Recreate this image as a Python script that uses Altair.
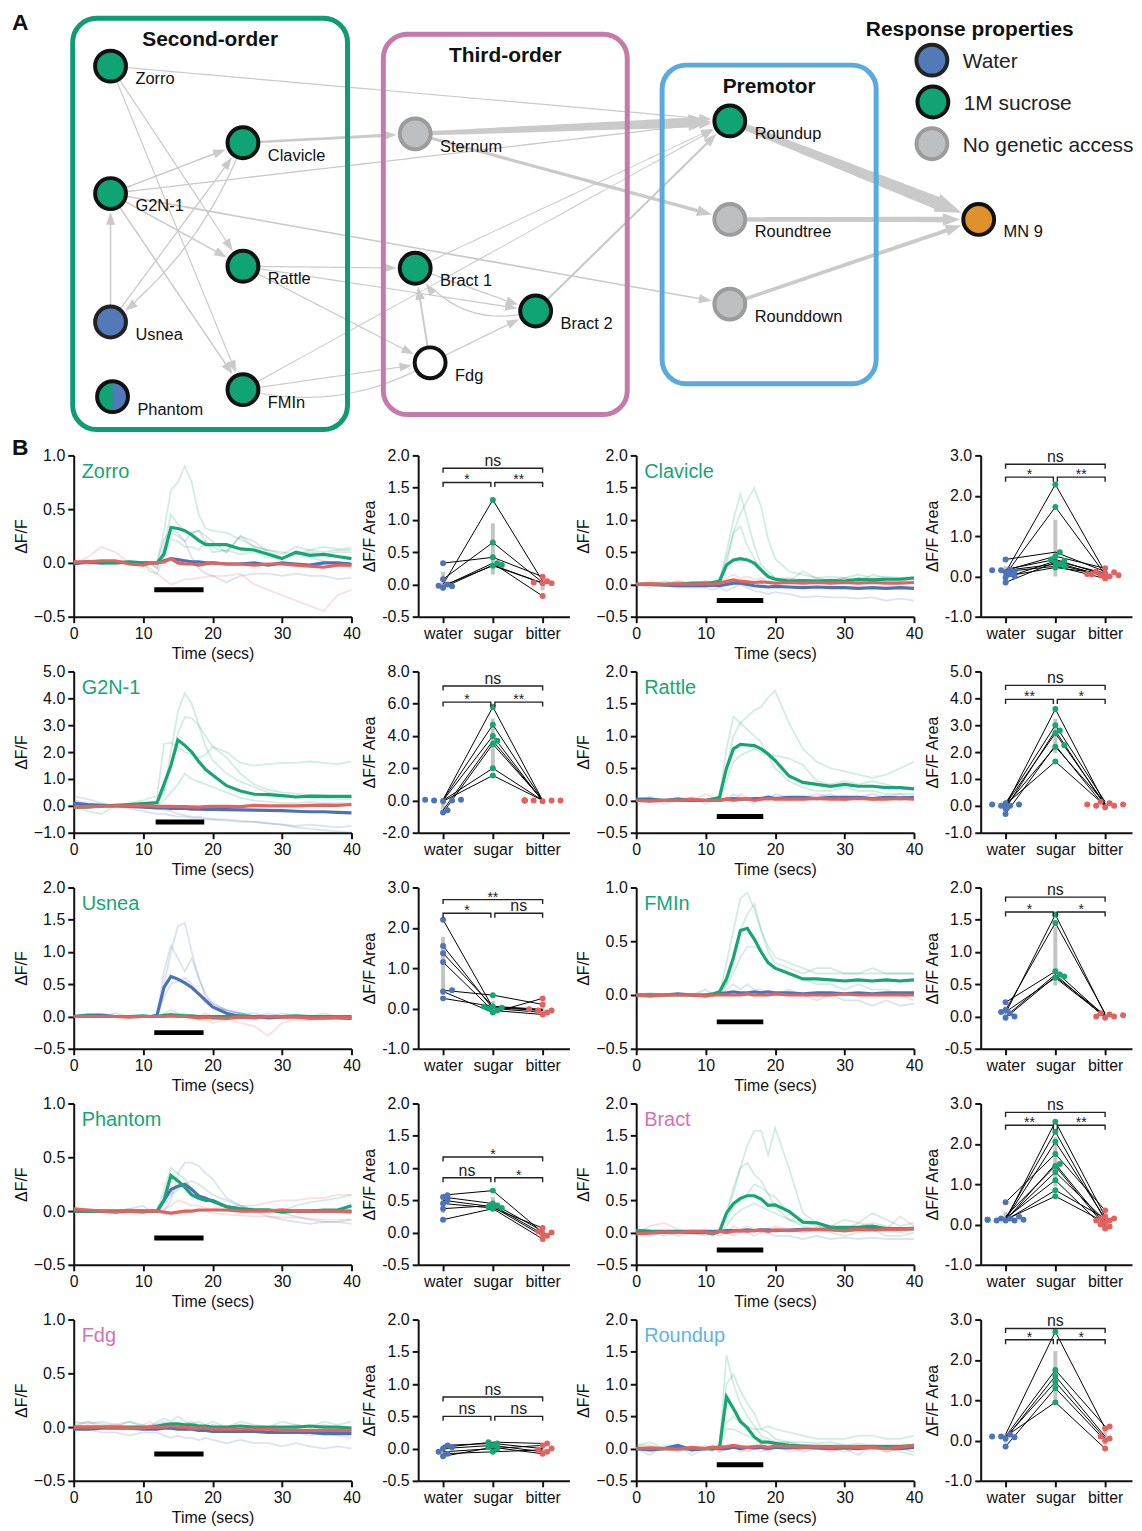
import math
import numpy as np
import pandas as pd
import altair as alt

FONT = "Liberation Sans"

# ---------------- Panel A : circuit diagram ----------------
NODE_NAMES = ["Zorro", "Clavicle", "G2N-1", "Rattle", "Usnea", "Phantom", "FMIn",
              "Sternum", "Bract 1", "Bract 2", "Fdg",
              "Roundup", "Roundtree", "Rounddown", "MN 9"]
NODE_X = [111, 244, 111, 244, 111, 113, 244, 417, 417, 538, 432, 733, 733, 733, 983]
NODE_Y = [65, 142, 193, 266, 322, 397, 390, 133, 268, 311, 363, 120, 219, 304, 219]
NODE_KIND = ["sucrose", "sucrose", "sucrose", "sucrose", "water", "mixed", "sucrose",
             "none", "sucrose", "sucrose", "unknown",
             "sucrose", "none", "none", "motor"]

KIND_FILL = {"sucrose": "#10a374", "water": "#5279b8", "mixed": "#10a374",
             "none": "#bdbfc1", "unknown": "#ffffff", "motor": "#df922b"}
KIND_STROKE = {"sucrose": "#111111", "water": "#222222", "mixed": "#111111",
               "none": "#9c9c9c", "unknown": "#111111", "motor": "#111111"}

EDGE_FROM = ["Zorro", "Zorro", "Zorro", "G2N-1", "G2N-1", "G2N-1", "G2N-1", "G2N-1",
             "Usnea", "Usnea", "Clavicle", "Clavicle", "Rattle", "Rattle", "Rattle",
             "FMIn", "FMIn", "FMIn", "Sternum", "Sternum", "Bract 1", "Bract 2",
             "Fdg", "Fdg", "Bract 1", "Bract 2", "Roundup", "Roundtree", "Rounddown"]
EDGE_TO = ["Roundup", "Rattle", "FMIn", "Clavicle", "Roundup", "Rattle", "Rounddown", "FMIn",
           "G2N-1", "Clavicle", "Usnea", "Sternum", "Bract 1", "Bract 2", "Fdg",
           "Fdg", "Fdg", "Roundup", "Roundup", "Roundtree", "Bract 2", "Bract 1",
           "Bract 1", "Bract 2", "Roundup", "Roundup", "MN 9", "MN 9", "MN 9"]
EDGE_W_START = [1.2, 1.2, 1.2, 1.5, 1.3, 1.5, 1.6, 1.5, 1.5, 1.3, 1.3, 2.2, 1.2, 1.2, 1.2,
                1.2, 1.2, 1.0, 4.0, 3.0, 1.3, 1.3, 2.0, 1.3, 1.0, 2.2, 6.0, 4.5, 3.5]
EDGE_W_END = [1.2, 1.2, 1.2, 1.5, 1.3, 1.5, 1.6, 1.5, 1.5, 1.3, 1.3, 3.2, 1.2, 1.2, 1.2,
              1.2, 1.2, 1.0, 10.0, 3.5, 1.3, 1.3, 2.0, 1.3, 1.0, 2.2, 13.0, 5.5, 4.0]
EDGE_BEND = [0, 0, 0, 0, 0, 0, 0, 0, 0, 0, 0.14, 0, 0, 0, 0,
             0, -0.2, 0, 0, 0, 0, 0.35, 0, 0, 0, 0, 0, 0, 0]
EDGE_HEAD = [1, 1, 1, 1, 1, 1, 1, 1, 1, 1, 1, 1, 1, 1, 1,
             1, 0, 1, 1, 1, 1, 1, 1, 1, 1, 1, 1, 1, 1]

BOX_X1 = [73, 385, 665]
BOX_X2 = [349, 630, 880]
BOX_Y1 = [17, 33, 64]
BOX_Y2 = [430, 415, 384]
BOX_COLOR = ["#0f9b74", "#c47bac", "#5aaadf"]
BOX_TITLE = ["Second-order", "Third-order", "Premotor"]

LEGEND_LABELS = ["Water", "1M sucrose", "No genetic access"]
LEGEND_KIND = ["water", "sucrose", "none"]
LEGEND_X = [936, 937, 936]
LEGEND_Y = [59, 101, 143]
LEGEND_TITLE = "Response properties"

PANEL_LETTERS = ["A", "B"]
PANEL_LETTER_Y = [22, 449]

EDGE_COLOR = "#cacaca"
NODE_R = 17.5
ARROW_PATH = "M0,-1L0.72,1L-0.72,1Z"
HALF_PATH = "M0,-1A1,1,0,0,1,0,1Z"

# ---------------- Panel B : calcium imaging ----------------
T = [0, 2, 4, 6, 8, 10, 11, 12, 13, 14, 15, 16, 17, 18, 19, 20,
     22, 24, 26, 28, 30, 32, 34, 36, 38, 40]

ZORRO = {
    "green": [0, .01, 0, 0, .01, 0, 0, 0, .08, .33, .32, .30, .26, .21, .17, .17,
              .17, .13, .12, .08, .04, .10, .07, .08, .06, .04],
    "blue": [-.01, .01, 0, .01, 0, 0, 0, 0, .02, .04, .03, .02, .01, .01, 0, 0,
             -.01, -.01, 0, -.02, 0, -.01, -.02, 0, 0, -.01],
    "red": [.01, .01, .02, .02, -.01, -.02, 0, 0, .01, .04, 0, -.01, -.01, -.02, -.01, 0,
            -.01, -.01, -.02, -.01, -.01, -.02, -.03, -.04, -.02, -.02],
    "faint": [
        ("green", [0, 0, 0, -.02, 0, 0, 0, 0, .30, .68, .75, .90, .75, .45, .32, .30,
                   .28, .22, .15, .12, .10, .08, .12, .10, .12, .12]),
        ("green", [0, 0, 0, 0, 0, 0, 0, -.05, .15, .45, .36, .30, .28, .30, .20, .15,
                   .10, .25, .15, .12, .08, .15, .12, .15, .13, .14]),
        ("green", [.02, -.02, 0, 0, .02, 0, -.08, -.10, .05, .22, .20, .15, .15, .12, .20, .10,
                   .12, .08, .10, .05, .05, .08, .10, .08, .10, .10]),
        ("blue", [0, 0, .02, 0, 0, 0, 0, 0, .22, .30, .28, .20, .05, -.05, -.10, -.12,
                  -.18, -.12, -.10, -.10, -.12, -.10, -.12, -.12, -.15, -.14]),
        ("blue", [0, .02, 0, 0, 0, 0, 0, -.05, .12, .28, .25, .20, .28, .30, .25, .20,
                  .10, .25, .20, .10, .05, .08, .05, .02, 0, -.05]),
        ("red", [0, .05, .15, .10, 0, 0, -.05, -.10, -.15, -.20, -.18, -.15, -.15, -.14, -.13, -.12,
                 -.12, -.10, -.20, -.25, -.30, -.35, -.40, -.45, -.30, -.25]),
    ],
}
CLAVICLE = {
    "green": [0, 0, 0, 0, .02, .02, .03, .05, .30, .38, .40, .38, .33, .22, .12, .08,
              .05, .06, .05, .06, .05, .08, .07, .08, .08, .10],
    "blue": [0, 0, -.01, -.02, -.02, -.02, -.01, -.02, 0, .02, .02, 0, -.02, -.03, -.04, -.03,
             -.04, -.05, -.04, -.05, -.05, -.06, -.05, -.06, -.05, -.06],
    "red": [0, .01, 0, .01, 0, .01, 0, .02, .05, .07, .05, .04, .03, .04, .03, .02,
            .03, .02, .03, .02, .03, .02, .03, .02, .02, .03],
    "faint": [
        ("green", [0, 0, .05, 0, .02, 0, .05, .10, .40, .80, 1.10, 1.30, 1.50, 1.20, .70, .40,
                   .20, .15, .10, .12, .10, .15, .10, .12, .10, .12]),
        ("green", [0, .02, 0, 0, 0, .05, .02, .05, .50, 1.00, 1.40, 1.00, .60, .30, .20, .10,
                   .08, .05, .05, .08, .05, .10, .05, .08, .10, .08]),
        ("green", [0, -.05, 0, .05, 0, 0, 0, 0, .30, .80, .90, .60, .40, .25, .15, .10,
                   .05, .20, .10, .05, .10, .05, .15, .10, .05, .10]),
        ("blue", [0, 0, -.02, -.05, -.05, -.05, -.08, -.05, -.10, -.05, 0, -.05, -.10, -.12, -.15, -.12,
                  -.15, -.20, -.18, -.20, -.20, -.22, -.20, -.25, -.22, -.25]),
        ("red", [0, .05, 0, .05, .02, .05, 0, .05, .10, .15, .10, .12, .08, .10, .05, .08,
                 .10, .05, .08, .05, .10, .05, .08, .05, .05, .08]),
    ],
}
G2N1 = {
    "green": [-.05, -.05, 0, .02, .05, .08, .10, .12, .80, 1.50, 2.45, 2.25, 2.00, 1.65, 1.35, 1.15,
              .75, .55, .43, .42, .38, .33, .36, .35, .35, .35],
    "blue": [.10, .05, .02, 0, -.02, -.05, -.06, -.08, -.08, -.10, -.10, -.10, -.12, -.12, -.13, -.13,
             -.14, -.15, -.16, -.17, -.18, -.20, -.22, -.22, -.24, -.26],
    "red": [-.05, -.03, -.02, 0, 0, 0, 0, -.02, -.02, -.02, -.03, -.03, -.04, -.05, -.03, -.02,
            -.02, -.03, .02, 0, 0, 0, .02, .03, .02, .05],
    "faint": [
        ("green", [0, 0, 0, 0, 0, 0, .05, .10, .60, 2.00, 3.50, 4.20, 3.80, 3.00, 2.20, 1.70,
                   1.20, .90, .70, .50, .40, .35, .30, .30, .25, .25]),
        ("green", [0, 0, 0, .05, 0, .05, .10, .10, .50, 1.50, 2.70, 3.30, 3.25, 3.00, 2.60, 2.20,
                   1.80, 1.20, .80, .60, .50, .45, .40, .40, .35, .35]),
        ("green", [0, -.20, -.30, 0, .10, .20, .30, .35, 2.30, 2.35, 2.20, 2.00, 1.90, 1.80, 1.90, 2.20,
                   2.00, 1.60, 1.50, 1.55, 1.60, 1.60, 1.65, 1.60, 1.55, 1.65]),
        ("green", [0, 0, 0, 0, 0, 0, 0, 0, .20, .50, .80, 1.20, 1.00, .90, .80, .70,
                   .50, .30, .20, .15, .10, .10, .15, .10, .10, .10]),
        ("blue", [.35, .25, .10, 0, -.10, -.20, -.25, -.30, -.30, -.35, -.40, -.40, -.45, -.45, -.50, -.50,
                  -.55, -.60, -.60, -.65, -.70, -.75, -.70, -.75, -.80, -.75]),
        ("blue", [.20, .10, .05, 0, 0, -.05, -.10, -.10, -.15, -.20, -.30, -.35, -.40, -.40, -.45, -.50,
                  -.50, -.55, -.60, -.65, -.70, -.80, -.85, -.90, -.95, -1.0]),
    ],
}
RATTLE = {
    "green": [0, 0, 0, 0, 0, 0, .02, .05, .50, .80, .87, .86, .85, .80, .72, .62,
              .38, .28, .25, .22, .25, .22, .22, .20, .20, .18],
    "blue": [.02, .02, 0, .02, 0, 0, .02, 0, .02, .03, .02, .02, .03, .03, .05, .03,
             .05, .05, .03, .05, .05, .05, .03, .05, .04, .05],
    "red": [0, -.01, 0, 0, .02, 0, 0, 0, .02, 0, .02, .03, 0, .02, .03, .02,
            .02, .02, .03, .02, .02, .03, .02, .02, .03, .02],
    "faint": [
        ("green", [0, 0, 0, 0, 0, 0, 0, 0, .50, 1.00, 1.20, 1.30, 1.40, 1.45, 1.60, 1.70,
                   1.20, .80, .60, .50, .45, .40, .35, .40, .50, .60]),
        ("green", [0, 0, 0, 0, 0, 0, 0, .05, .80, 1.30, 1.20, 1.10, 1.00, .90, .70, .50,
                   .30, .20, .15, .15, .20, .15, .15, .10, .10, .10]),
        ("green", [0, 0, 0, 0, 0, 0, 0, 0, .30, .60, .70, .75, .80, .75, .70, .70,
                   .65, .55, .30, .25, .30, .25, .30, .25, .20, .20]),
        ("blue", [0, .05, -.05, 0, .05, -.05, 0, .05, 0, .10, .05, 0, -.05, .05, 0, .10,
                  .05, 0, .05, .10, 0, .05, .10, .05, 0, .05]),
        ("red", [0, .05, 0, .05, 0, .10, .05, 0, .05, 0, .10, .05, 0, .05, 0, .05,
                 0, .05, .10, .05, 0, .05, 0, .05, .10, 0]),
    ],
}
USNEA = {
    "green": [0, .01, 0, 0, 0, .01, 0, 0, .02, .03, .02, .01, .01, 0, 0, 0,
              0, .01, 0, 0, 0, .01, 0, 0, 0, 0],
    "blue": [0, .02, .02, 0, 0, 0, 0, .02, .45, .62, .58, .52, .45, .35, .25, .15,
             .05, 0, 0, -.02, -.01, 0, -.02, -.02, -.02, -.03],
    "red": [0, 0, 0, 0, -.01, 0, 0, 0, 0, .01, 0, 0, -.01, -.02, -.01, -.02,
            -.03, -.01, -.02, 0, -.01, -.01, -.02, -.02, -.01, -.02],
    "faint": [
        ("blue", [0, 0, 0, 0, 0, 0, 0, 0, .50, 1.00, 1.40, 1.45, 1.00, .60, .35, .20,
                  .10, .05, 0, 0, 0, 0, 0, 0, 0, 0]),
        ("blue", [0, 0, 0, 0, 0, 0, 0, 0, .70, 1.10, .90, .70, .90, .60, .30, .20,
                  .10, .05, .05, 0, 0, 0, 0, 0, 0, -.05]),
        ("blue", [0, 0, 0, 0, 0, 0, 0, 0, .30, .50, .55, .60, .50, .35, .20, .15,
                  .10, .05, 0, .05, 0, 0, -.05, 0, 0, 0]),
        ("red", [0, 0, 0, 0, 0, 0, 0, 0, 0, 0, 0, 0, 0, -.05, -.05, -.10,
                 -.05, -.10, -.15, -.30, -.10, -.05, -.05, -.05, 0, -.05]),
        ("green", [0, 0, 0, .05, 0, 0, 0, 0, .05, .10, .05, .05, 0, 0, .05, 0,
                   0, .05, 0, 0, .05, 0, 0, .05, 0, 0]),
    ],
}
FMIN = {
    "green": [0, 0, 0, 0, 0, 0, .01, .03, .15, .35, .60, .62, .52, .40, .30, .25,
              .20, .15, .15, .14, .13, .14, .13, .14, .13, .14],
    "blue": [0, 0, 0, .01, 0, 0, 0, .01, .02, .03, .02, .02, .03, .02, .03, .02,
             .02, .01, .02, .02, .01, .02, .01, .02, .02, .02],
    "red": [0, -.01, 0, 0, 0, -.01, 0, 0, 0, 0, 0, .01, 0, 0, 0, .01,
            0, 0, 0, 0, .01, 0, 0, 0, 0, 0],
    "faint": [
        ("green", [0, 0, 0, 0, 0, 0, 0, 0, .30, .60, .90, .95, .80, .60, .45, .35,
                   .30, .25, .20, .20, .20, .20, .20, .20, .20, .20]),
        ("green", [0, 0, 0, 0, 0, 0, 0, 0, .10, .30, .60, .75, .85, .60, .40, .30,
                   .25, .20, .25, .25, .20, .20, .25, .20, .20, .20]),
        ("green", [0, 0, 0, 0, 0, 0, 0, 0, .10, .20, .35, .45, .45, .40, .30, .25,
                   .20, .15, .10, .10, .05, .10, .05, .05, 0, -.05]),
        ("blue", [0, .02, 0, 0, 0, .05, 0, 0, .05, .10, .05, .10, .05, .05, 0, 0,
                  .05, 0, -.05, 0, -.05, -.05, -.10, -.05, -.10, -.08]),
    ],
}
PHANTOM = {
    "green": [0, 0, 0, 0, 0, 0, 0, 0, .10, .33, .28, .22, .15, .12, .10, .10,
              .04, .02, .01, .01, -.01, 0, 0, .01, .01, .05],
    "blue": [0, 0, 0, 0, 0, 0, 0, 0, .10, .20, .23, .25, .20, .14, .12, .09,
             .04, .02, .01, .01, 0, 0, 0, 0, 0, 0],
    "red": [.02, .01, 0, -.01, 0, -.01, 0, 0, -.01, -.02, -.01, 0, 0, .01, .01, .01,
            .01, 0, 0, 0, .01, 0, 0, 0, 0, -.01],
    "faint": [
        ("blue", [0, 0, 0, 0, 0, 0, 0, 0, 0, .10, .35, .45, .45, .42, .35, .30,
                  .12, .05, .02, 0, -.02, -.05, -.08, -.10, -.10, -.12]),
        ("blue", [0, .02, 0, 0, .02, .05, 0, 0, .05, .15, .20, .25, .28, .25, .20, .15,
                  .10, .05, 0, -.05, -.08, -.10, -.12, -.10, -.10, -.08]),
        ("green", [0, 0, 0, 0, .02, 0, 0, 0, .20, .40, .35, .30, .20, .15, .10, .08,
                   .05, .02, 0, 0, 0, .05, .08, .10, .12, .15]),
        ("red", [0, 0, 0, 0, 0, 0, 0, 0, .02, .05, .10, .08, .05, .05, .03, .02,
                 .05, .05, .05, .08, .10, .10, .12, .12, .15, .15]),
        ("red", [0, 0, 0, -.02, 0, 0, 0, 0, -.02, -.03, -.03, -.02, 0, 0, 0, -.02,
                 -.03, -.04, -.05, -.05, -.06, -.06, -.07, -.08, -.08, -.08]),
    ],
}
BRACT = {
    "green": [.03, .02, 0, .01, 0, 0, -.02, .02, .30, .45, .53, .57, .57, .52, .42, .43,
              .33, .16, .15, .08, .08, .08, .10, .06, .06, .06],
    "blue": [.03, .02, .02, .02, .02, .02, .02, .02, .03, .03, .03, .04, .03, .04, .04, .03,
             .04, .05, .05, .05, .04, .05, .05, .05, .06, .06],
    "red": [-.02, -.01, .01, 0, .02, .01, -.01, .02, 0, .02, .03, .02, .03, .04, .02, .04,
            .03, .04, .05, .04, .03, .05, .04, .05, .05, .06],
    "faint": [
        ("green", [0, .02, 0, 0, 0, 0, -.05, 0, .30, .60, 1.00, 1.35, 1.58, 1.58, 1.20, 1.62,
                   1.00, .30, .15, .10, .05, .10, .15, .10, .05, .10]),
        ("green", [0, 0, 0, 0, 0, 0, 0, 0, .30, .70, 1.00, 1.08, .90, .80, .60, .40,
                   .20, .15, .10, .05, 0, .05, .10, .05, 0, .05]),
        ("green", [0, 0, -.05, 0, 0, 0, 0, 0, .20, .40, .50, .60, .75, .70, .60, .55,
                   .30, .20, .15, .10, .20, .15, .30, .20, .10, .15]),
        ("green", [0, 0, 0, 0, 0, 0, 0, 0, .10, .25, .35, .40, .45, .40, .35, .30,
                   .20, .10, .05, 0, -.05, 0, .05, -.05, -.05, 0]),
        ("red", [0, .10, .15, .05, 0, .05, 0, .05, 0, .10, .05, .10, .05, 0, .05, .10,
                 .05, 0, .05, .10, .05, .15, .10, .05, .25, .10]),
        ("blue", [0, -.05, 0, -.05, 0, -.05, 0, -.05, 0, -.05, 0, 0, -.05, 0, 0, -.05,
                  -.05, -.10, -.05, -.10, -.08, -.10, -.08, -.10, -.10, -.10]),
    ],
}
FDG = {
    "green": [0, 0, 0, 0, 0, 0, 0, .01, .02, .03, .03, .02, .02, .01, .01, 0,
              0, .01, 0, 0, 0, 0, .01, 0, 0, -.01],
    "blue": [-.02, -.02, -.01, -.01, -.01, -.02, -.02, -.02, -.01, -.01, -.02, -.02, -.02, -.03, -.03, -.04,
             -.04, -.04, -.04, -.05, -.05, -.05, -.05, -.06, -.06, -.06],
    "red": [0, 0, 0, 0, -.01, -.01, 0, 0, 0, .01, 0, 0, -.01, -.01, -.01, -.02,
            -.02, -.02, -.02, -.02, -.03, -.03, -.03, -.03, -.03, -.03],
    "faint": [
        ("green", [.02, .05, .03, 0, .05, .02, 0, .05, .08, .05, .10, .05, .03, .05, .02, .05,
                   0, .05, .02, 0, .05, .02, 0, .05, .02, .05]),
        ("blue", [0, -.02, -.05, -.05, -.08, -.05, -.05, -.05, -.08, -.10, -.08, -.10, -.10, -.12, -.10, -.12,
                  -.15, -.12, -.15, -.15, -.18, -.15, -.18, -.20, -.18, -.20]),
        ("red", [0, .05, 0, .03, 0, .02, .05, 0, .03, 0, -.02, 0, .02, -.02, 0, -.03,
                 0, -.05, -.02, -.05, -.03, -.05, -.08, -.05, -.08, -.10]),
        ("blue", [.05, .03, .05, .02, .05, 0, .02, .03, .05, .02, 0, .03, .05, .02, 0, .02,
                  0, -.02, 0, -.02, 0, .02, 0, .02, 0, 0]),
    ],
}
ROUNDUP = {
    "green": [0, 0, 0, 0, 0, 0, -.01, .02, .80, .62, .42, .32, .18, .10, .10, .08,
              .05, .04, .03, .03, .02, .03, .03, .03, .03, .05],
    "blue": [0, -.02, 0, .05, -.02, 0, .02, 0, 0, .02, 0, .02, .01, .02, 0, .02,
             .01, .02, .01, 0, .01, 0, .02, .01, 0, .02],
    "red": [0, .01, 0, -.01, .02, 0, .02, .02, .03, .05, .03, .02, .03, .04, .02, .04,
            .03, .02, .03, .02, .03, .02, .02, 0, .02, .05],
    "faint": [
        ("green", [0, 0, 0, 0, 0, 0, 0, .05, 1.45, 1.00, .70, .50, .35, .20, .15, .10,
                   .10, .05, .05, .05, .05, .05, .05, .05, .05, .05]),
        ("green", [0, 0, 0, 0, 0, 0, 0, .05, 1.00, 1.15, .90, .70, .55, .30, .25, .15,
                   .10, .10, .08, .10, .05, .08, .05, .05, .05, .05]),
        ("green", [.05, .10, 0, -.05, 0, 0, 0, .05, .40, .50, .40, .35, .30, .30, .35, .30,
                   .25, .20, .15, .15, .15, .20, .20, .15, .15, .20]),
        ("green", [.05, .05, 0, 0, 0, 0, 0, 0, .30, .30, .25, .20, .15, .15, .10, .10,
                   .08, .05, .05, .05, .05, 0, 0, 0, -.05, -.10]),
        ("blue", [0, -.10, .05, .05, -.10, 0, .05, -.05, 0, .05, -.05, 0, .05, 0, -.05, 0,
                  .05, -.05, 0, -.05, 0, -.10, .05, -.05, 0, -.05]),
        ("red", [.05, -.05, 0, .05, -.05, .05, 0, -.05, 0, .05, 0, -.05, 0, -.05, 0, .05,
                 -.05, 0, .05, 0, -.05, 0, .05, -.05, 0, .05]),
    ],
}

# Integrated responses (one value per animal, same order in each list)
ZORRO_AREA = {"water": [0.0, 0.08, 0.33, -0.03, -0.05, -0.02],
              "sugar": [1.31, 0.65, 0.42, 0.33, 0.30, 0.29],
              "bitter": [0.05, 0.03, 0.12, -0.18, 0.02, 0.02]}
CLAVICLE_AREA = {"water": [0.10, 0.05, 0.42, 0.15, 0.17, -0.03, -0.15, 0.15, 0.12, 0.0],
                 "sugar": [2.28, 1.72, 0.60, 0.50, 0.42, 0.38, 0.35, 0.30, 0.25, 0.22],
                 "bitter": [0.10, 0.05, 0.12, 0.20, 0.03, 0.08, 0.0, 0.02, -0.05, 0.06]}
G2N1_AREA = {"water": [0.05, 0.05, 0.0, -0.6, -0.75, 0.0, -0.05],
             "sugar": [5.8, 4.7, 4.0, 3.7, 3.5, 2.0, 1.55],
             "bitter": [0.0, 0.0, -0.05, 0.0, 0.02, 0.0, 0.0]}
RATTLE_AREA = {"water": [0.0, 0.1, -0.1, 0.05, -0.3, 0.0, 0.05],
               "sugar": [3.6, 3.0, 2.8, 2.7, 2.25, 2.2, 1.65],
               "bitter": [0.05, 0.15, 0.0, 0.05, -0.05, 0.1, 0.0]}
USNEA_AREA = {"water": [2.2, 1.55, 1.37, 1.15, 0.45, 0.42, 0.25],
              "sugar": [0.02, 0.0, 0.05, -0.05, 0.33, -0.1, 0.05],
              "bitter": [-0.05, -0.1, -0.02, -0.15, 0.1, 0.25, -0.05]}
FMIN_AREA = {"water": [0.05, 0.1, 0.22, 0.0, -0.02, 0.07],
             "sugar": [1.58, 1.45, 0.7, 0.65, 0.62, 0.6],
             "bitter": [0.03, 0.05, 0.0, -0.02, 0.02, 0.0]}
PHANTOM_AREA = {"water": [0.58, 0.55, 0.5, 0.45, 0.37, 0.2],
                "sugar": [0.65, 0.45, 0.4, 0.38, 0.42, 0.37],
                "bitter": [0.0, 0.02, -0.05, 0.07, -0.02, -0.1]}
BRACT_AREA = {"water": [0.1, 0.15, 0.12, 0.55, 0.1, 0.2, 0.12, 0.15, 0.1, 0.12],
              "sugar": [2.55, 2.3, 2.05, 1.75, 1.5, 1.45, 1.3, 1.1, 0.85, 0.7],
              "bitter": [0.2, 0.1, 0.15, 0.35, 0.0, -0.05, 0.1, -0.1, 0.15, 0.05]}
FDG_AREA = {"water": [0.05, 0.02, 0.0, -0.05, -0.08, -0.12],
            "sugar": [0.08, 0.1, 0.05, 0.0, -0.05, 0.02],
            "bitter": [0.0, 0.08, -0.05, 0.05, -0.02, -0.08]}
ROUNDUP_AREA = {"water": [0.15, 0.1, 0.05, 0.08, -0.15, 0.1],
                "sugar": [2.7, 1.75, 1.6, 1.45, 1.3, 0.95],
                "bitter": [0.3, 0.35, 0.1, 0.05, 0.0, -0.2]}

# significance brackets: (from, to, level, label) with 0=water 1=sugar 2=bitter
ZORRO_SIG = [(0, 2, 1.80, "ns"), (0, 0.96, 1.58, "*"), (1.04, 2, 1.58, "**")]
CLAVICLE_SIG = [(0, 2, 2.78, "ns"), (0, 0.96, 2.46, "*"), (1.04, 2, 2.46, "**")]
G2N1_SIG = [(0, 2, 7.1, "ns"), (0, 0.96, 6.1, "*"), (1.04, 2, 6.1, "**")]
RATTLE_SIG = [(0, 2, 4.48, "ns"), (0, 0.96, 3.96, "**"), (1.04, 2, 3.96, "*")]
USNEA_SIG = [(0, 2, 2.70, "**"), (0, 0.96, 2.36, "*"), (1.04, 2, 2.36, "ns")]
FMIN_SIG = [(0, 2, 1.85, "ns"), (0, 0.96, 1.62, "*"), (1.04, 2, 1.62, "*")]
PHANTOM_SIG = [(0, 2, 1.17, "*"), (0, 0.96, 0.85, "ns"), (1.04, 2, 0.85, "*")]
BRACT_SIG = [(0, 2, 2.78, "ns"), (0, 0.96, 2.46, "**"), (1.04, 2, 2.46, "**")]
FDG_SIG = [(0, 2, 0.80, "ns"), (0, 0.96, 0.50, "ns"), (1.04, 2, 0.50, "ns")]
ROUNDUP_SIG = [(0, 2, 2.78, "ns"), (0, 0.96, 2.50, "*"), (1.04, 2, 2.50, "*")]

CATS = ["water", "sugar", "bitter"]
TRACE_COLORS = {"green": "#17a575", "blue": "#4c72b6", "red": "#e2625f"}
CAT_COLORS = {"water": "#4d74b9", "sugar": "#17a575", "bitter": "#e2625f"}
LBL_GREEN = "#17a575"
LBL_PINK = "#d372b7"
LBL_SKY = "#5db4e9"

# (name, label colour, traces, trace y-axis, stimulus bar (start, end, level), areas, area y-axis, sig)
PANELS = [
    ("Zorro", LBL_GREEN, ZORRO, (-0.5, 1.0, 0.5), (11.6, 18.7, -0.25), ZORRO_AREA, (-0.5, 2.0, 0.5), ZORRO_SIG),
    ("Clavicle", LBL_GREEN, CLAVICLE, (-0.5, 2.0, 0.5), (11.6, 18.3, -0.25), CLAVICLE_AREA, (-1.0, 3.0, 1.0), CLAVICLE_SIG),
    ("G2N-1", LBL_GREEN, G2N1, (-1.0, 5.0, 1.0), (11.8, 18.8, -0.6), G2N1_AREA, (-2.0, 8.0, 2.0), G2N1_SIG),
    ("Rattle", LBL_GREEN, RATTLE, (-0.5, 2.0, 0.5), (11.6, 18.3, -0.25), RATTLE_AREA, (-1.0, 5.0, 1.0), RATTLE_SIG),
    ("Usnea", LBL_GREEN, USNEA, (-0.5, 2.0, 0.5), (11.6, 18.7, -0.25), USNEA_AREA, (-1.0, 3.0, 1.0), USNEA_SIG),
    ("FMIn", LBL_GREEN, FMIN, (-0.5, 1.0, 0.5), (11.6, 18.3, -0.25), FMIN_AREA, (-0.5, 2.0, 0.5), FMIN_SIG),
    ("Phantom", LBL_GREEN, PHANTOM, (-0.5, 1.0, 0.5), (11.6, 18.7, -0.25), PHANTOM_AREA, (-0.5, 2.0, 0.5), PHANTOM_SIG),
    ("Bract", LBL_PINK, BRACT, (-0.5, 2.0, 0.5), (11.6, 18.3, -0.27), BRACT_AREA, (-1.0, 3.0, 1.0), BRACT_SIG),
    ("Fdg", LBL_PINK, FDG, (-0.5, 1.0, 0.5), (11.6, 18.7, -0.25), FDG_AREA, (-0.5, 2.0, 0.5), FDG_SIG),
    ("Roundup", LBL_SKY, ROUNDUP, (-0.5, 2.0, 0.5), (11.6, 18.3, -0.25), ROUNDUP_AREA, (-1.0, 3.0, 1.0), ROUNDUP_SIG),
]

TRACE_W, DOT_W, PLOT_H = 279, 152, 162


# ---------------- Panel A construction ----------------
def panel_a():
    xs = alt.Scale(domain=[74, 1136], nice=False, zero=False)
    ys = alt.Scale(domain=[10, 446], nice=False, zero=False, reverse=True)

    def X(f):
        return alt.X(f, type="quantitative", scale=xs, axis=None)

    def Y(f):
        return alt.Y(f, type="quantitative", scale=ys, axis=None)

    trail_rows, head_rows = [], []
    for i in range(len(EDGE_FROM)):
        s = NODE_NAMES.index(EDGE_FROM[i])
        d = NODE_NAMES.index(EDGE_TO[i])
        p0 = np.array([NODE_X[s], NODE_Y[s]], float)
        p2 = np.array([NODE_X[d], NODE_Y[d]], float)
        vec = p2 - p0
        length = float(np.hypot(*vec))
        nrm = np.array([vec[1], -vec[0]]) / length
        p1 = (p0 + p2) / 2 + EDGE_BEND[i] * length * nrm
        ts = np.linspace(0, 1, 41)
        pts = (((1 - ts) ** 2)[:, None] * p0 + (2 * (1 - ts) * ts)[:, None] * p1
               + (ts ** 2)[:, None] * p2)
        w0, w1 = EDGE_W_START[i], EDGE_W_END[i]
        if EDGE_HEAD[i]:
            tang = p2 - p1
            u = tang / np.hypot(*tang)
            head_len = 11 + 1.2 * w1
            tip = p2 - u * (NODE_R + 1)
            end = tip - u * 0.85 * head_len
            centre = tip - u * head_len / 2
            lim = np.hypot(*(end - p2))
            keep = np.hypot(pts[:, 0] - p2[0], pts[:, 1] - p2[1]) > lim
            pts = np.vstack([pts[keep], end])
            ang = math.degrees(math.atan2(u[0], -u[1])) % 360
            head_rows.append({"x": centre[0], "y": centre[1], "ang": ang, "sz": head_len ** 2})
        seg = np.hypot(np.diff(pts[:, 0]), np.diff(pts[:, 1]))
        cum = np.concatenate([[0], np.cumsum(seg)])
        frac = cum / cum[-1]
        for k, (pt, f) in enumerate(zip(pts, frac)):
            trail_rows.append({"e": i, "k": k, "x": pt[0], "y": pt[1], "w": w0 + (w1 - w0) * f})
    trails = alt.Chart(pd.DataFrame(trail_rows)).mark_trail(color=EDGE_COLOR).encode(
        X("x"), Y("y"), detail="e:N", order="k:Q", size=alt.Size("w:Q", scale=None))
    heads = alt.Chart(pd.DataFrame(head_rows)).mark_point(
        shape=ARROW_PATH, filled=True, color=EDGE_COLOR, opacity=1, strokeWidth=0).encode(
        X("x"), Y("y"), angle=alt.Angle("ang:Q", scale=None), size=alt.Size("sz:Q", scale=None))

    boxes_df = pd.DataFrame({"x": BOX_X1, "x2": BOX_X2, "y": BOX_Y1, "y2": BOX_Y2,
                             "c": BOX_COLOR, "t": BOX_TITLE})
    boxes_df["tx"] = (boxes_df["x"] + boxes_df["x2"]) / 2
    boxes_df["ty"] = boxes_df["y"] + 22
    boxes = alt.Chart(boxes_df).mark_rect(fillOpacity=0, strokeWidth=5, cornerRadius=24).encode(
        X("x"), alt.X2("x2"), Y("y"), alt.Y2("y2"), stroke=alt.Stroke("c:N", scale=None))
    box_titles = alt.Chart(boxes_df).mark_text(
        font=FONT, fontSize=21, fontWeight="bold", align="center", baseline="middle", color="#111111"
    ).encode(X("tx"), Y("ty"), text="t:N")

    nodes_df = pd.DataFrame({"name": NODE_NAMES, "x": NODE_X, "y": NODE_Y, "kind": NODE_KIND})
    leg_df = pd.DataFrame({"name": LEGEND_LABELS, "x": LEGEND_X, "y": LEGEND_Y, "kind": LEGEND_KIND})
    circ_df = pd.concat([nodes_df, leg_df], ignore_index=True)
    circ_df["fill"] = circ_df["kind"].map(KIND_FILL)
    circ_df["stroke"] = circ_df["kind"].map(KIND_STROKE)
    fills = alt.Chart(circ_df).mark_point(shape="circle", filled=True, size=961, opacity=1,
                                          strokeWidth=0).encode(
        X("x"), Y("y"), fill=alt.Fill("fill:N", scale=None))
    half = alt.Chart(nodes_df[nodes_df["kind"] == "mixed"]).mark_point(
        shape=HALF_PATH, filled=True, size=961, opacity=1, strokeWidth=0,
        color=KIND_FILL["water"]).encode(X("x"), Y("y"))
    rings = alt.Chart(circ_df).mark_point(shape="circle", filled=False, size=961, opacity=1,
                                          strokeWidth=4).encode(
        X("x"), Y("y"), stroke=alt.Stroke("stroke:N", scale=None))
    node_labels = alt.Chart(nodes_df).mark_text(
        font=FONT, fontSize=16.5, align="left", baseline="middle", dx=25, dy=13, color="#111111"
    ).encode(X("x"), Y("y"), text="name:N")
    leg_labels = alt.Chart(leg_df).mark_text(
        font=FONT, fontSize=21, align="left", baseline="middle", dx=31, dy=2, color="#222222"
    ).encode(X("x"), Y("y"), text="name:N")
    leg_title = alt.Chart(pd.DataFrame({"x": [LEGEND_X[0]], "y": [LEGEND_Y[0]], "t": [LEGEND_TITLE]})).mark_text(
        font=FONT, fontSize=21, fontWeight="bold", align="center", baseline="middle", dx=38, dy=-30,
        color="#111111").encode(X("x"), Y("y"), text="t:N")
    letters = alt.Chart(pd.DataFrame({"x": [12, 12], "y": PANEL_LETTER_Y, "t": PANEL_LETTERS})).mark_text(
        font=FONT, fontSize=23, fontWeight="bold", align="left", baseline="middle", color="#111111"
    ).encode(X("x"), Y("y"), text="t:N")

    return alt.layer(trails, heads, boxes, box_titles, fills, half, rings, node_labels,
                     leg_labels, leg_title, letters).properties(width=1062, height=436)


# ---------------- Panel B construction ----------------
def make_trace(name, color, tr, ydom, bar):
    ymin, ymax, ystep = ydom
    nt = int(round((ymax - ymin) / ystep)) + 1
    yticks = [round(ymin + i * ystep, 6) for i in range(nt)]
    xsc = alt.Scale(domain=[0, 40], nice=False, zero=False)
    ysc = alt.Scale(domain=[ymin, ymax], nice=False, zero=False)
    X = alt.X("t:Q", scale=xsc, axis=alt.Axis(values=[0, 10, 20, 30, 40], format="d",
                                              title="Time (secs)", labelFlush=False))
    Y = alt.Y("v:Q", scale=ysc, axis=alt.Axis(values=yticks, format=".1f", title="ΔF/F",
                                              labelFlush=False))
    rows = []
    for i, (c, vals) in enumerate(tr["faint"]):
        for t, v in zip(T, vals):
            rows.append({"t": t, "v": v, "s": "f%d" % i, "c": TRACE_COLORS[c]})
    layers = [alt.Chart(pd.DataFrame(rows)).mark_line(strokeWidth=1.8, opacity=0.2).encode(
        X, Y, detail="s:N", color=alt.Color("c:N", scale=None))]
    for c in ["blue", "green", "red"]:
        df = pd.DataFrame({"t": T, "v": tr[c]})
        layers.append(alt.Chart(df).mark_line(strokeWidth=3.2, color=TRACE_COLORS[c]).encode(X, Y))
    bar_df = pd.DataFrame({"t": [bar[0]], "t2": [bar[1]], "v": [bar[2]]})
    layers.append(alt.Chart(bar_df).mark_rule(strokeWidth=5, color="black").encode(
        X, Y, x2=alt.X2("t2")))
    layers.append(alt.Chart(pd.DataFrame({"n": [name]})).mark_text(
        font=FONT, fontSize=20, align="left", baseline="middle", color=color).encode(
        x=alt.value(8), y=alt.value(17), text="n:N"))
    return alt.layer(*layers).properties(width=TRACE_W, height=PLOT_H)


def beeswarm(vals, ymin, ymax, diam=6.0, step_px=50.0):
    py = [(v - ymin) / (ymax - ymin) * PLOT_H for v in vals]
    order = np.argsort(py)
    placed = []
    offs = [0.0] * len(vals)
    for i in order:
        xo = 0.0
        for k in [0, 1, -1, 2, -2, 3, -3, 4, -4]:
            xo = k * diam * 0.75
            if all((xo - a) ** 2 + (py[i] - b) ** 2 >= (diam * 0.8) ** 2 for a, b in placed):
                break
        placed.append((xo, py[i]))
        offs[i] = xo / step_px
    return offs


def make_dots(area, ydom, sig):
    ymin, ymax, ystep = ydom
    nt = int(round((ymax - ymin) / ystep)) + 1
    yticks = [round(ymin + i * ystep, 6) for i in range(nt)]
    xsc = alt.Scale(domain=[-0.5, 2.54], nice=False, zero=False)
    ysc = alt.Scale(domain=[ymin, ymax], nice=False, zero=False)
    lab = "datum.value == 0 ? '%s' : (datum.value == 1 ? '%s' : '%s')" % tuple(CATS)
    X = alt.X("x:Q", scale=xsc, axis=alt.Axis(values=[0, 1, 2], labelExpr=lab, title=None,
                                              labelFlush=False))
    Y = alt.Y("v:Q", scale=ysc, axis=alt.Axis(values=yticks, title="ΔF/F Area", labelFlush=False,
                                              labelExpr="replace(format(datum.value, '.1f'), '\u2212', '-')"))
    sd_rows, line_rows, pt_rows = [], [], []
    for ci, cat in enumerate(CATS):
        vals = np.array(area[cat], float)
        m, s = vals.mean(), vals.std(ddof=1)
        sd_rows.append({"x": ci, "v": m - s, "v2": m + s})
        offs = beeswarm(list(vals), ymin, ymax)
        for a, (v, o) in enumerate(zip(vals, offs)):
            line_rows.append({"x": ci, "v": v, "a": a})
            pt_rows.append({"x": ci + o, "v": v, "c": CAT_COLORS[cat]})
    tick = 0.028 * (ymax - ymin)
    br_rows, txt_rows = [], []
    for b, (x1, x2, lev, label) in enumerate(sig):
        for k, (xx, vv) in enumerate([(x1, lev - tick), (x1, lev), (x2, lev), (x2, lev - tick)]):
            br_rows.append({"x": xx, "v": vv, "b": b, "k": k})
        txt_rows.append({"x": (x1 + x2) / 2, "v": lev, "t": label})
    txt_df = pd.DataFrame(txt_rows)
    layers = [
        alt.Chart(pd.DataFrame(sd_rows)).mark_rule(strokeWidth=4, color="#c4c4c4").encode(
            X, Y, y2=alt.Y2("v2")),
        alt.Chart(pd.DataFrame(line_rows)).mark_line(color="black", strokeWidth=1).encode(
            X, Y, detail="a:N", order="x:Q"),
        alt.Chart(pd.DataFrame(pt_rows)).mark_circle(size=36, opacity=1).encode(
            X, Y, color=alt.Color("c:N", scale=None)),
        alt.Chart(pd.DataFrame(br_rows)).mark_line(color="#222222", strokeWidth=1.4).encode(
            X, Y, detail="b:N", order="k:Q"),
        alt.Chart(txt_df[txt_df["t"] == "ns"]).mark_text(
            font=FONT, fontSize=16, align="center", baseline="alphabetic", dy=-2, color="#222222").encode(
            X, Y, text="t:N"),
        alt.Chart(txt_df[txt_df["t"] != "ns"]).mark_text(
            font=FONT, fontSize=14, align="center", baseline="alphabetic", dy=2, color="#222222").encode(
            X, Y, text="t:N"),
    ]
    return alt.layer(*layers).properties(width=DOT_W, height=PLOT_H)


cells = []
for p in PANELS:
    name, color, tr, tdom, bar, area, adom, sig = p
    cells.append(make_trace(name, color, tr, tdom, bar))
    cells.append(make_dots(area, adom, sig))

grid = alt.concat(*cells, columns=4, align="each", bounds="flush",
                  spacing=alt.RowColnumber(row=55, column=67))

chart = alt.vconcat(panel_a(), grid, spacing=10, bounds="flush").properties(
    padding={"left": 4, "top": 0, "right": 0, "bottom": 4}
).configure(font=FONT).configure_axis(
    labelFont=FONT, titleFont=FONT, labelFontSize=16, titleFontSize=16,
    titleFontWeight="normal", labelColor="#111111", titleColor="#111111",
    domainColor="#111111", tickColor="#111111", domainWidth=2, tickWidth=2,
    tickSize=6, grid=False, labelPadding=3, titlePadding=4
).configure_view(strokeWidth=0)

chart.save("out.html", embed_options={"renderer": "svg", "actions": False})
